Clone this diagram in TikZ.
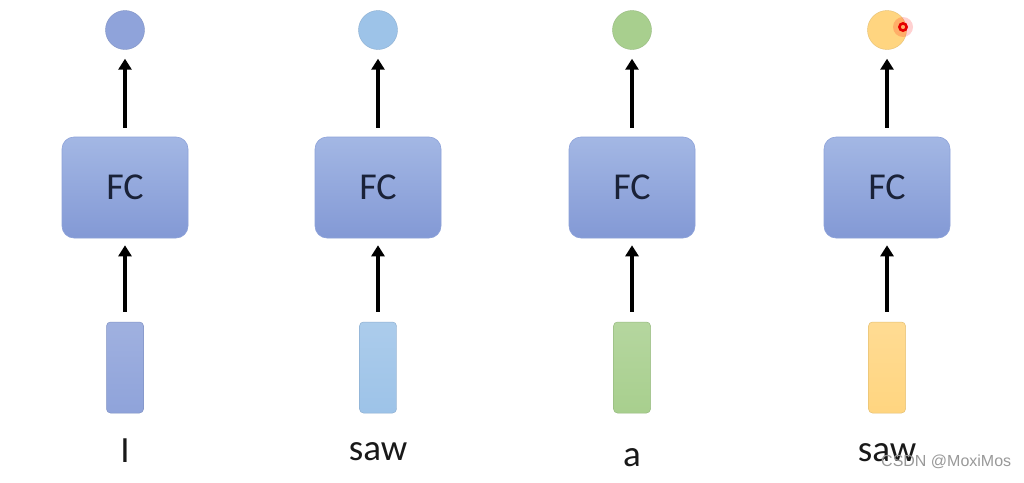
\documentclass[tikz,border=0pt]{standalone}
\usepackage{fontspec}
\setmainfont{Carlito}
\usetikzlibrary{arrows.meta}
\definecolor{fctop}{HTML}{A3B7E4}
\definecolor{fcbot}{HTML}{8399D5}
\definecolor{fcedge}{HTML}{8DA2D9}
\definecolor{fctext}{HTML}{1A2238}
\definecolor{cblue}{HTML}{8FA3DA}
\definecolor{clight}{HTML}{9DC3E8}
\definecolor{cgreen}{HTML}{A8CF8E}
\definecolor{cyellow}{HTML}{FFD580}
\tikzset{
  fcbox/.style={rectangle, rounded corners=12pt, minimum width=126pt, minimum height=101pt,
    top color=fctop, bottom color=fcbot, draw=fcedge, line width=0.6pt,
    text=fctext, font=\fontsize{38}{38}\selectfont, inner sep=0pt},
  outdot/.style={circle, minimum size=39pt, inner sep=0pt, fill=#1, draw=#1!90!black, line width=0.4pt},
  vecbox/.style={rectangle, rounded corners=4pt, minimum width=37pt, minimum height=91pt,
    inner sep=0pt, top color=#1!85!white, bottom color=#1, draw=#1!90!black, line width=0.5pt},
  word/.style={anchor=base, font=\fontsize{37}{37}\selectfont, text=black!90, inner sep=0pt},
  flow/.style={line width=3.6pt, -{Triangle[length=11pt,width=13pt]}},
}
\begin{document}
\begin{tikzpicture}[x=1pt,y=-1pt]
\useasboundingbox (0,0) rectangle (1024,482);
\fill[white] (0,0) rectangle (1024,482);

% one column per input token: vector -> FC -> output
\foreach \i/\cx/\col/\w/\by in {1/125/cblue/I/462, 2/378/clight/saw/460, 3/632/cgreen/a/466, 4/887/cyellow/saw/461}{
  \node[outdot=\col] (out\i) at (\cx,30) {};
  \node[fcbox] (fc\i) at (\cx,187.5) {FC};
  \node[vecbox=\col] (vec\i) at (\cx,367.5) {};
  \node[word] (w\i) at (\cx,\by) {\w};
  \draw[flow, shorten <=9pt, shorten >=9pt] (fc\i.north) -- (out\i.south);
  \draw[flow, shorten <=10pt, shorten >=7pt] (vec\i.north) -- (fc\i.south);
}

% pointer mark on the last output
\fill[red, opacity=0.18] (903,27) circle (10);
\draw[red!90!black, line width=2.6pt] (903,27) circle (3.6);

% watermark
\node[anchor=base west, inner sep=0pt, text=black!40, font=\fontspec{Liberation Sans}\fontsize{16}{16}\selectfont] (wm) at (881,466) {CSDN @MoxiMos};
\end{tikzpicture}
\end{document}
